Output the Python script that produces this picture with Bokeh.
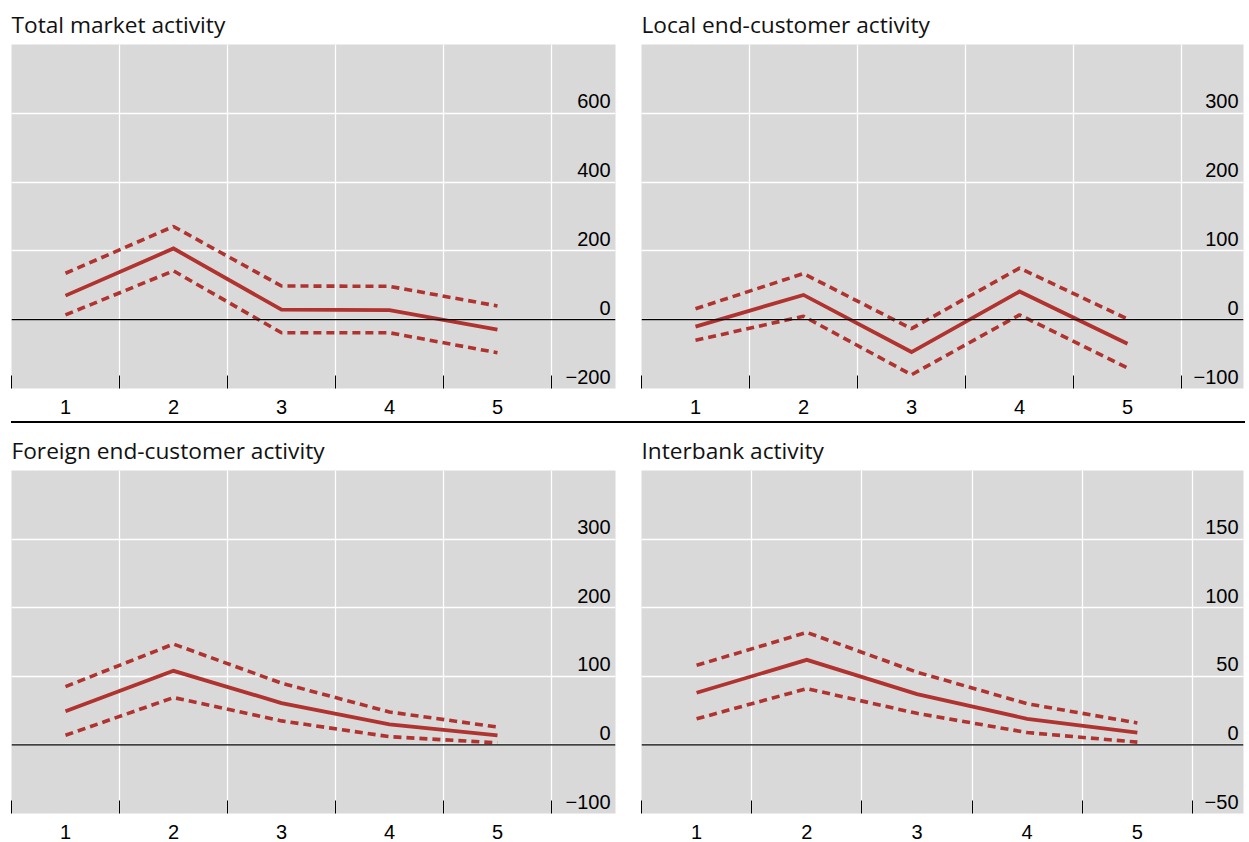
from bokeh.plotting import figure
from bokeh.layouts import column, row
from bokeh.models import Range1d, FixedTicker, Span, Div
from bokeh.core.properties import value
from bokeh.embed import file_html
from bokeh.resources import INLINE

# ---- data ----
horizons = [1, 2, 3, 4, 5]

total_central = [70, 207, 29, 28, -29]
total_upper = [135, 271, 98, 97, 40]
total_lower = [14, 142, -38, -38, -96]
total_ticks = [600, 400, 200, 0, -200]

local_central = [-10, 36, -47, 41, -35]
local_upper = [16, 67, -13, 75, 1]
local_lower = [-30, 5, -80, 7, -70]
local_ticks = [300, 200, 100, 0, -100]

foreign_central = [49, 108, 61, 30, 14]
foreign_upper = [85, 147, 90, 48, 26]
foreign_lower = [14, 69, 35, 12, 3]
foreign_ticks = [300, 200, 100, 0, -100]

inter_central = [38, 62, 37, 19, 9]
inter_upper = [58, 82, 53, 30, 16]
inter_lower = [19, 41, 23, 9, 2]
inter_ticks = [150, 100, 50, 0, -50]

titles = ["Total market activity", "Local end-customer activity",
          "Foreign end-customer activity", "Interbank activity"]

RED = "#B0332F"
BG = "#D9D9D9"
TICK_FONT = "Liberation Sans"
TITLE_FONT = "Open Sans"


def fmt(v):
    return str(v).replace("-", "\u2212")


def panel(title, central, upper, lower, ticks, y_end, x_end, frame_w, frame_h,
          mbl, mbr, mbt, mbb):
    p = figure(frame_width=frame_w, frame_height=frame_h,
               x_range=Range1d(0.5, x_end), y_range=Range1d(min(ticks), y_end),
               output_backend="svg", toolbar_location=None,
               y_axis_location=None, title=title,
               min_border_left=mbl, min_border_right=mbr,
               min_border_top=mbt, min_border_bottom=mbb)
    p.background_fill_color = BG
    p.border_fill_color = "white"
    p.outline_line_color = None
    p.title.text_font = TITLE_FONT
    p.title.text_font_size = "22.7px"
    p.title.text_font_style = "normal"
    p.title.text_color = "#111111"
    p.title.standoff = 10

    # grids
    p.xgrid.ticker = FixedTicker(ticks=[h + 0.5 for h in horizons])
    p.xgrid.grid_line_color = "white"
    p.xgrid.grid_line_width = 1.3
    p.ygrid.ticker = FixedTicker(ticks=[t for t in ticks if t != min(ticks)])
    p.ygrid.grid_line_color = "white"
    p.ygrid.grid_line_width = 1.3

    # x axis
    ax = p.xaxis[0]
    ax.ticker = FixedTicker(ticks=horizons,
                            minor_ticks=[h - 0.5 for h in horizons] + [horizons[-1] + 0.5])
    ax.axis_line_color = None
    ax.major_tick_line_color = None
    ax.major_tick_in = 0
    ax.major_tick_out = 0
    ax.minor_tick_in = 13
    ax.minor_tick_out = 0
    ax.minor_tick_line_color = "black"
    ax.minor_tick_line_width = 1
    ax.major_label_text_font = TICK_FONT
    ax.major_label_text_font_size = "20px"
    ax.major_label_text_color = "black"
    ax.major_label_standoff = 11

    # zero line
    p.add_layout(Span(location=0, dimension="width", line_color="black", line_width=1.2))

    # series
    p.line(horizons, upper, line_color=RED, line_width=3.6, line_dash="8 5")
    p.line(horizons, lower, line_color=RED, line_width=3.6, line_dash="8 5")
    p.line(horizons, central, line_color=RED, line_width=3.8, line_join="miter")

    # y labels inside the plot, right aligned
    p.text(x=[x_end] * len(ticks), y=ticks, text=[fmt(t) for t in ticks],
           text_align="right", text_baseline="bottom", x_offset=-5, y_offset=-5,
           text_font=value(TICK_FONT), text_font_size="20px", text_color="black")
    return p


p1 = panel(titles[0], total_central, total_upper, total_lower, total_ticks, 800, 6.093,
           604, 344, 11, 13, 44, 33)
p2 = panel(titles[1], local_central, local_upper, local_lower, local_ticks, 400, 6.074,
           602, 344, 13, 6, 44, 33)
p3 = panel(titles[2], foreign_central, foreign_upper, foreign_lower, foreign_ticks, 400, 6.093,
           604, 343, 11, 13, 47, 27)
p4 = panel(titles[3], inter_central, inter_upper, inter_lower, inter_ticks, 200, 5.963,
           602, 343, 13, 6, 47, 27)

sep = Div(text="", width=1234, height=2, margin=(0, 0, 0, 11),
          styles={"background-color": "black"})

layout = column(row(p1, p2), sep, row(p3, p4))

open("out.html", "w").write(file_html(layout, INLINE))
